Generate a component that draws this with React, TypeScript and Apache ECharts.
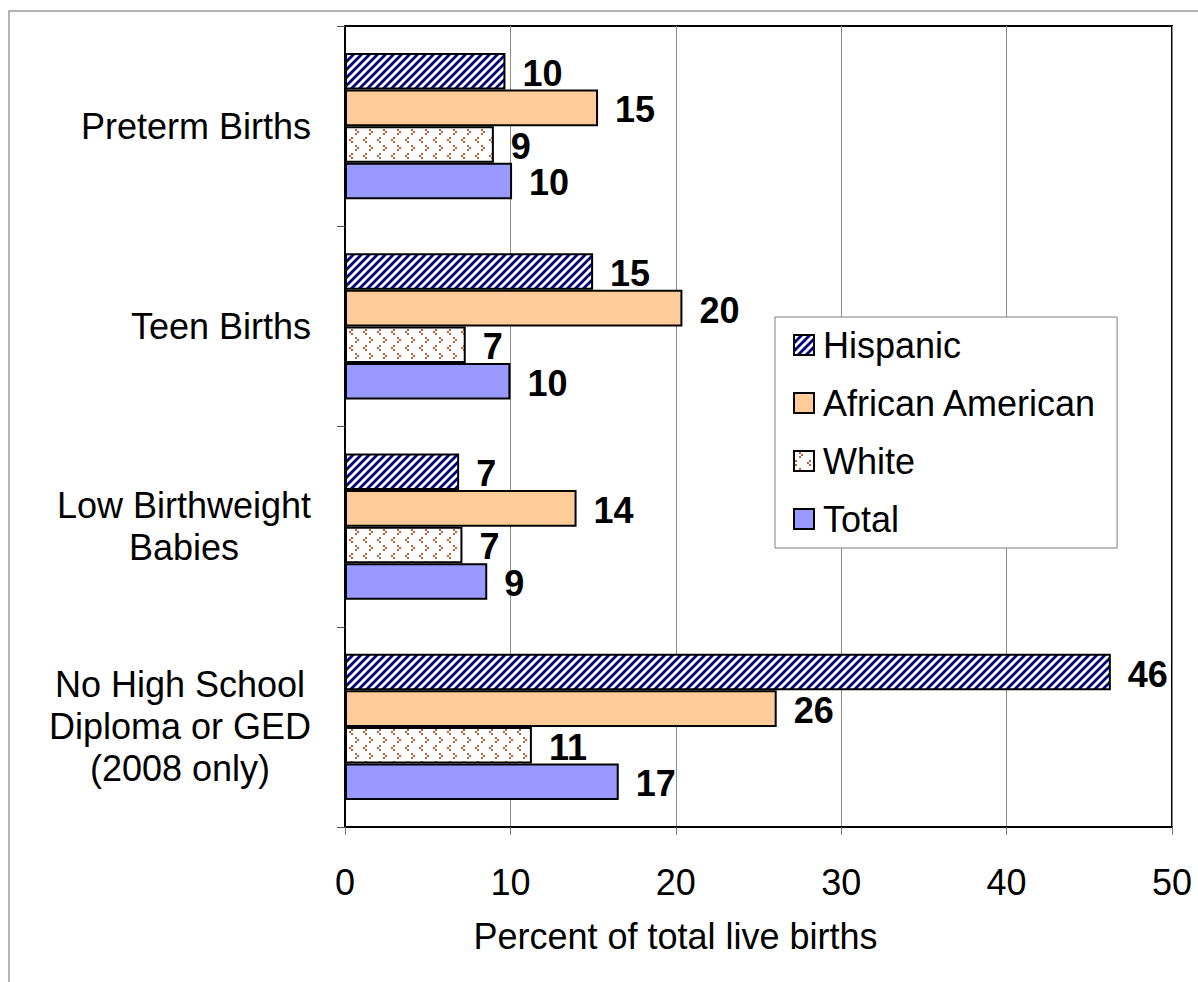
import React, { useEffect, useRef } from "react";
import * as echarts from "echarts";

const categories = [
  "Preterm Births",
  "Teen Births",
  "Low Birthweight\nBabies",
  "No High School\nDiploma or GED\n(2008 only)",
];
const seriesNames = ["Hispanic", "African American", "White", "Total"];
const hispanic = [9.7, 15.0, 6.9, 46.3];
const africanAmerican = [15.3, 20.4, 14.0, 26.1];
const white = [9.0, 7.3, 7.1, 11.3];
const total = [10.1, 10.0, 8.6, 16.55];
const xTicks = { min: 0, max: 50, interval: 10 };
const axisName = "Percent of total live births";

const FONT = "'Liberation Sans', Arial, sans-serif";

function hatchPattern(): HTMLCanvasElement {
  const c = document.createElement("canvas");
  c.width = 8;
  c.height = 8;
  const g = c.getContext("2d")!;
  g.fillStyle = "#ffffff";
  g.fillRect(0, 0, 8, 8);
  g.strokeStyle = "#000080";
  g.lineWidth = 2.8;
  g.beginPath();
  g.moveTo(-2, 10);
  g.lineTo(10, -2);
  g.moveTo(-2, 2);
  g.lineTo(2, -2);
  g.moveTo(6, 10);
  g.lineTo(10, 6);
  g.stroke();
  return c;
}

function divotPattern(): HTMLCanvasElement {
  const c = document.createElement("canvas");
  c.width = 14;
  c.height = 16;
  const g = c.getContext("2d")!;
  g.fillStyle = "#ffffff";
  g.fillRect(0, 0, 14, 16);
  g.fillStyle = "#c0602e";
  const dot = (x: number, y: number) => g.fillRect(x, y, 2, 2);
  // ">" shape
  dot(5, 1);
  dot(7, 3);
  dot(5, 5);
  // "<" shape wrapped on tile edge
  dot(1, 9);
  dot(13, 11);
  dot(-1, 11);
  dot(1, 13);
  return c;
}

export default function App() {
  const ref = useRef<HTMLDivElement>(null);

  useEffect(() => {
    if (!ref.current) return;
    const chart = echarts.init(ref.current, undefined, { renderer: "svg" });

    const hatch = { image: hatchPattern(), repeat: "repeat" };
    const divot = { image: divotPattern(), repeat: "repeat" };
    const colors: any[] = [hatch, "#ffcc99", divot, "#9999ff"];
    const dataSets = [hispanic, africanAmerican, white, total];

    const series = seriesNames.map((name, i) => ({
      name,
      type: "bar",
      data: dataSets[i],
      barGap: "0%",
      barCategoryGap: "27%",
      itemStyle: { color: colors[i], borderColor: "#000", borderWidth: 2 },
      label: {
        show: true,
        position: "right",
        distance: 17,
        offset: [0, 2],
        fontFamily: FONT,
        fontSize: 36,
        fontWeight: "bold",
        color: "#000",
        formatter: (p: any) => String(Math.round(p.value)),
      },
    }));

    chart.setOption({
      animation: false,
      backgroundColor: "#ffffff",
      textStyle: { fontFamily: FONT },
      grid: {
        left: 345,
        right: 26,
        top: 26,
        bottom: 155,
        show: true,
        borderColor: "#000",
        borderWidth: 2,
        containLabel: false,
      },
      graphic: [
        {
          type: "rect",
          shape: { x: 9, y: 11, width: 1400, height: 1200 },
          style: { fill: "none", stroke: "#9a9a9a", lineWidth: 1.5 },
          silent: true,
          z: -1,
        },
      ],
      legend: {
        orient: "vertical",
        left: 775,
        top: 317,
        align: "left",
        padding: [10, 20, 11, 18],
        itemGap: 22,
        itemWidth: 20,
        itemHeight: 20,
        backgroundColor: "#ffffff",
        borderColor: "#808080",
        borderWidth: 1,
        icon: "rect",
        itemStyle: { borderColor: "#000", borderWidth: 2 },
        textStyle: {
          fontFamily: FONT,
          fontSize: 36,
          lineHeight: 36,
          color: "#000",
          padding: [0, 0, 0, 4],
        },
        data: seriesNames,
      },
      xAxis: {
        type: "value",
        min: xTicks.min,
        max: xTicks.max,
        interval: xTicks.interval,
        name: axisName,
        nameLocation: "middle",
        nameGap: 91,
        nameTextStyle: {
          fontFamily: FONT,
          fontSize: 36,
          color: "#000",
          padding: [0, 166, 0, 0],
        },
        axisLine: { show: true, lineStyle: { color: "#000", width: 2 } },
        axisTick: { show: true, length: 8, lineStyle: { color: "#777", width: 1 } },
        axisLabel: { fontFamily: FONT, fontSize: 36, color: "#000", margin: 37 },
        splitLine: { show: true, lineStyle: { color: "#8c8c8c", width: 1 } },
      },
      yAxis: {
        type: "category",
        inverse: true,
        data: categories,
        axisLine: { show: true, lineStyle: { color: "#000", width: 2 } },
        axisTick: { show: true, length: 8, lineStyle: { color: "#555", width: 1 } },
        axisLabel: {
          align: "right",
          margin: 34,
          fontFamily: FONT,
          fontSize: 36,
          color: "#000",
          lineHeight: 42,
          formatter: (v: string) =>
            v
              .split("\n")
              .map((l) => `{c|${l}}`)
              .join("\n"),
          rich: {
            c: {
              align: "center",
              fontFamily: FONT,
              fontSize: 36,
              lineHeight: 42,
              color: "#000",
            },
          },
        },
        splitLine: { show: false },
      },
      series,
    } as any);

    return () => chart.dispose();
  }, []);

  return (
    <div
      ref={ref}
      style={{ position: "absolute", left: 0, top: 0, width: 1198, height: 982 }}
    />
  );
}
